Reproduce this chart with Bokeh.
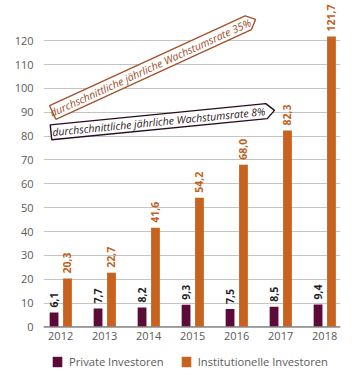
import math
from bokeh.plotting import figure
from bokeh.models import Range1d, FixedTicker, Legend, LegendItem, ColumnDataSource, Span
from bokeh.core.properties import value
from bokeh.embed import file_html
from bokeh.resources import INLINE

# ---- data ----
years = [2012, 2013, 2014, 2015, 2016, 2017, 2018]
private = [6.1, 7.7, 8.2, 9.3, 7.5, 8.5, 9.4]
institutional = [20.3, 22.7, 41.6, 54.2, 68.0, 82.3, 121.7]
series_names = ["Private Investoren", "Institutionelle Investoren"]
y_ticks = [0, 10, 20, 30, 40, 50, 60, 70, 80, 90, 100, 110, 120]
growth_texts = ["durchschnittliche jährliche Wachstumsrate 35%",
                "durchschnittliche jährliche Wachstumsrate 8%"]
# arrow annotations: (start of box, tip) in data coordinates
growth_arrows = [[(2011.82, 89.9), (2016.43, 128.9)],
                 [(2011.78, 81.6), (2016.86, 90.8)]]

# ---- style ----
C_PRIV = "#5c0b38"
C_INST = "#c8621f"
C_INST_TXT = "#c0601d"
C_ARROW = ["#a4532c", "#2a0c20"]
C_ARROW_TXT = ["#9c4e2b", "#2a1422"]
GRAY_TXT = "#5a5a5a"
FONT = "Open Sans"

X0, X1 = 2011.61, 2018.36
Y0, Y1 = -19.08, 136
FW, FH = 297, 370

p = figure(width=345, height=374, frame_width=FW, frame_height=FH,
           x_range=Range1d(X0, X1), y_range=Range1d(Y0, Y1),
           output_backend="svg", toolbar_location=None,
           x_axis_location=None,
           min_border_left=43, min_border_right=5, min_border_top=2,
           min_border_bottom=2)
p.outline_line_color = None
p.background_fill_color = "white"

src = ColumnDataSource(dict(
    year=years, zero=[0] * len(years), private=private, institutional=institutional,
    ylab=[str(y) for y in years],
    plab=[f"{v:.1f}".replace(".", ",") for v in private],
    ilab=[f"{v:.1f}".replace(".", ",") for v in institutional],
    xp=[y - 0.15 for y in years], xi=[y + 0.155 for y in years],
))

r_priv = p.vbar(x="xp", top="private", width=0.2, source=src,
                fill_color=C_PRIV, line_color=None)
r_inst = p.vbar(x="xi", top="institutional", width=0.2, source=src,
                fill_color=C_INST, line_color=None)

p.text(x="xp", y="private", text="plab", source=src, angle=math.pi / 2,
       text_align="left", text_baseline="middle", y_offset=-5,
       text_font=value(FONT), text_font_style="bold", text_font_size="10.5px",
       text_color="#1e1e1e")
p.text(x="xi", y="institutional", text="ilab", source=src, angle=math.pi / 2,
       text_align="left", text_baseline="middle", y_offset=-5,
       text_font=value(FONT), text_font_style="bold", text_font_size="10.5px",
       text_color=C_INST_TXT)

# year labels under the zero line
p.text(x="year", y="zero", text="ylab", source=src, y_offset=5,
       text_align="center", text_baseline="top",
       text_font=value(FONT), text_font_size="11px", text_color=GRAY_TXT)

# ---- arrow boxes ----
sx = FW / (X1 - X0)
sy = FH / (Y1 - Y0)
HALF_H = 7.5
TIP = 8.0
for (start, tip), txt, lc, tc in zip(growth_arrows, growth_texts, C_ARROW, C_ARROW_TXT):
    ax, ay = (start[0] - X0) * sx, (start[1] - Y0) * sy
    bx, by = (tip[0] - X0) * sx, (tip[1] - Y0) * sy
    L = math.hypot(bx - ax, by - ay)
    ux, uy = (bx - ax) / L, (by - ay) / L
    nx, ny = -uy, ux
    cx, cy = bx - TIP * ux, by - TIP * uy
    pts = [(ax + HALF_H * nx, ay + HALF_H * ny),
           (cx + HALF_H * nx, cy + HALF_H * ny),
           (bx, by),
           (cx - HALF_H * nx, cy - HALF_H * ny),
           (ax - HALF_H * nx, ay - HALF_H * ny)]
    px = [X0 + q[0] / sx for q in pts]
    py = [Y0 + q[1] / sy for q in pts]
    p.patch(px, py, fill_color="white", line_color=lc, line_width=1.4)
    mx, my = (ax + cx) / 2, (ay + cy) / 2
    p.text(x=[X0 + mx / sx], y=[Y0 + my / sy], text=[txt],
           angle=math.atan2(uy, ux), text_align="center", text_baseline="middle",
           text_font=value(FONT), text_font_style="italic", text_font_size="10.5px",
           text_color=tc)

# ---- axes / grid ----
p.xgrid.grid_line_color = None
p.ygrid.ticker = FixedTicker(ticks=y_ticks)
p.ygrid.grid_line_color = "#c4c4c4"
p.ygrid.grid_line_width = 1
p.add_layout(Span(location=0, dimension="width", line_color="#8a8a8a", line_width=1.5))

p.yaxis.ticker = FixedTicker(ticks=y_ticks)
p.yaxis.axis_line_color = None
p.yaxis.major_tick_line_color = None
p.yaxis.minor_tick_line_color = None
p.yaxis.major_label_standoff = 4
p.yaxis.major_label_text_font = FONT
p.yaxis.major_label_text_font_size = "11px"
p.yaxis.major_label_text_color = GRAY_TXT

legend = Legend(items=[LegendItem(label=series_names[0], renderers=[r_priv]),
                       LegendItem(label=series_names[1], renderers=[r_inst])],
                orientation="horizontal", location=(8, 3),
                glyph_width=12, glyph_height=13, label_standoff=6, spacing=16,
                padding=0, margin=0, border_line_color=None,
                background_fill_alpha=0,
                label_text_font=FONT, label_text_font_size="11.2px",
                label_text_color=GRAY_TXT)
p.add_layout(legend, "center")

open("out.html", "w").write(file_html(p, INLINE))
